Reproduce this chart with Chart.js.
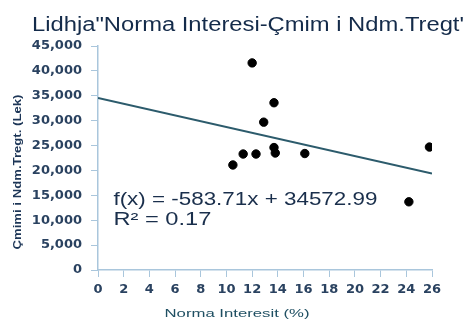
<!DOCTYPE html>
<html>
<head>
<meta charset="utf-8">
<script src="https://cdn.jsdelivr.net/npm/chart.js@4"></script>
<style>
  html, body { margin: 0; padding: 0; background: #fff; }
  #wrap { width: 463px; height: 320px; }
</style>
</head>
<body>
<div id="wrap"><canvas id="chart" width="463" height="320"></canvas></div>
<script>
// data
const rates = [12, 13.7, 12.9, 10.5, 11.3, 12.3, 13.7, 13.8, 16.1, 25.8, 24.2];
const prices = [41600, 33600, 29700, 21100, 23300, 23300, 24600, 23500, 23400, 24700, 13700];

// trend line as printed on the chart
const slope = -583.71;
const intercept = 34572.99;
const trendX = [0, 26];

const titleText = "Lidhja\"Norma Interesi-Çmim i Ndm.Tregt'";
const xTitle = "Norma Interesit (%)";
const yTitle = "Çmimi i Ndm.Tregt. (Lek)";
const eqText = "f(x) = -583.71x + 34572.99";
const r2Text = "R² = 0.17";

const axisColor = "#a9c6dc";
const labelColor = "#2a4260";

let points = rates.map((r, i) => ({ x: r, y: prices[i] }));
let trend = trendX.map(x => ({ x: x, y: slope * x + intercept }));

// draws text stretched to a given width
function stretchText(ctx, text, x, y, width, font, color, rotate) {
  ctx.save();
  ctx.font = font;
  ctx.fillStyle = color;
  let w = ctx.measureText(text).width;
  ctx.translate(x, y);
  if (rotate) ctx.rotate(-Math.PI / 2);
  ctx.scale(width / w, 1);
  ctx.fillText(text, 0, 0);
  ctx.restore();
}

const textPlugin = {
  id: "texts",
  afterDraw(chart) {
    const ctx = chart.ctx;
    const xs = chart.scales.x;
    const ys = chart.scales.y;

    ctx.textBaseline = "alphabetic";
    ctx.textAlign = "left";
    stretchText(ctx, titleText, 32, 31, 432, "20px 'Liberation Sans'", "#142b4a");

    ctx.textAlign = "center";
    stretchText(ctx, xTitle, 237, 317, 145, "11px 'Liberation Sans'", "#1f4f62");

    ctx.textAlign = "center";
    stretchText(ctx, yTitle, 21, 172, 155, "bold 10px 'Liberation Sans'", "#1d3657", true);

    // equation placed from data coordinates
    ctx.textAlign = "left";
    let ex = xs.getPixelForValue(1.2);
    stretchText(ctx, eqText, ex, ys.getPixelForValue(13000), 264, "18px 'Liberation Sans'", "#1a2f4c");
    stretchText(ctx, r2Text, ex, ys.getPixelForValue(9000), 98, "18px 'Liberation Sans'", "#1a2f4c");
  }
};

new Chart(document.getElementById("chart"), {
  type: "scatter",
  data: {
    datasets: [
      {
        type: "line",
        data: trend,
        borderColor: "#2c5b6c",
        borderWidth: 2,
        pointRadius: 0,
        fill: false
      },
      {
        data: points,
        backgroundColor: "#000",
        borderColor: "#000",
        pointRadius: 4.2,
        pointHoverRadius: 4.2
      }
    ]
  },
  options: {
    responsive: false,
    animation: false,
    layout: { padding: { top: 46, right: 31, left: 0, bottom: 0 } },
    plugins: {
      legend: { display: false },
      tooltip: { enabled: false }
    },
    scales: {
      x: {
        type: "linear",
        min: 0,
        max: 26,
        ticks: {
          stepSize: 2,
          color: labelColor,
          font: { family: "DejaVu Sans", size: 13, weight: "bold" },
          padding: 5
        },
        grid: { drawOnChartArea: false, color: axisColor, tickLength: 7 },
        border: { color: axisColor, width: 1.5 },
        afterFit(scale) { scale.height = 50; }
      },
      y: {
        min: 0,
        max: 45000,
        ticks: {
          stepSize: 5000,
          color: labelColor,
          font: { family: "DejaVu Sans", size: 13, weight: "bold" },
          padding: 9,
          callback: v => v.toLocaleString("en-US")
        },
        grid: { drawOnChartArea: false, color: axisColor, tickLength: 7 },
        border: { color: axisColor, width: 1.5 },
        afterFit(scale) { scale.width = 98; }
      }
    }
  },
  plugins: [textPlugin]
});
</script>
</body>
</html>
